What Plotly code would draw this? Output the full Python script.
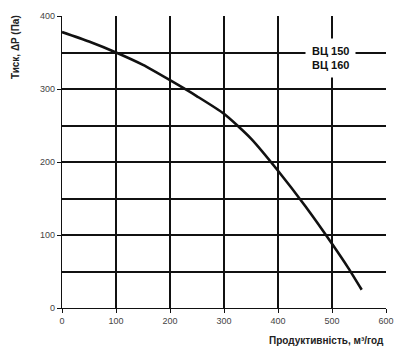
import plotly.graph_objects as go

flow = [0, 50, 100, 150, 200, 250, 300, 350, 400, 450, 500, 530, 555]
pressure = [378, 365, 350, 333, 312, 290, 266, 232, 188, 140, 88, 55, 25]
x_ticks = [0, 100, 200, 300, 400, 500, 600]
y_ticks = [0, 100, 200, 300, 400]
label = "ВЦ 150<br>ВЦ 160"

fig = go.Figure()
fig.add_trace(go.Scatter(x=flow, y=pressure, mode="lines", line=dict(color="#111", width=2.6, shape="spline", smoothing=0.6), showlegend=False, hoverinfo="skip"))

fig.add_annotation(x=498, y=343, text="<b>" + label + "</b>", showarrow=False, bgcolor="white",
                   font=dict(family="Liberation Sans, Arial", size=11, color="#111"), borderpad=6)

axis_common = dict(showline=True, linecolor="#111", linewidth=1.2, ticks="outside", ticklen=4, tickcolor="#111",
                   tickfont=dict(family="Liberation Sans, Arial", size=9, color="#444"), zeroline=False,
                   showgrid=True, gridcolor="#111", mirror=False, automargin=False)

fig.update_xaxes(range=[0, 600], tickvals=x_ticks, gridwidth=1.5, **axis_common)
fig.update_yaxes(range=[0, 400], tickvals=y_ticks, gridwidth=1.1,
                 minor=dict(dtick=50, showgrid=True, gridcolor="#111", gridwidth=1.6, ticks=""), **axis_common)

fig.add_annotation(xref="paper", yref="paper", x=1.0, y=-0.113, xanchor="right", yanchor="middle", showarrow=False,
                   text="<b>Продуктивність, м³/год</b>", font=dict(family="Liberation Sans, Arial", size=10, color="#222"))
fig.add_annotation(xref="paper", yref="paper", x=-0.145, y=1.01, xanchor="center", yanchor="top", textangle=-90, showarrow=False,
                   text="<b>Тиск, ΔP (Па)</b>", font=dict(family="Liberation Sans, Arial", size=10, color="#222"))

fig.update_layout(width=396, height=347, margin=dict(l=62, r=10, t=16, b=39, autoexpand=False), plot_bgcolor="white", paper_bgcolor="white")
fig.write_html("out.html")
